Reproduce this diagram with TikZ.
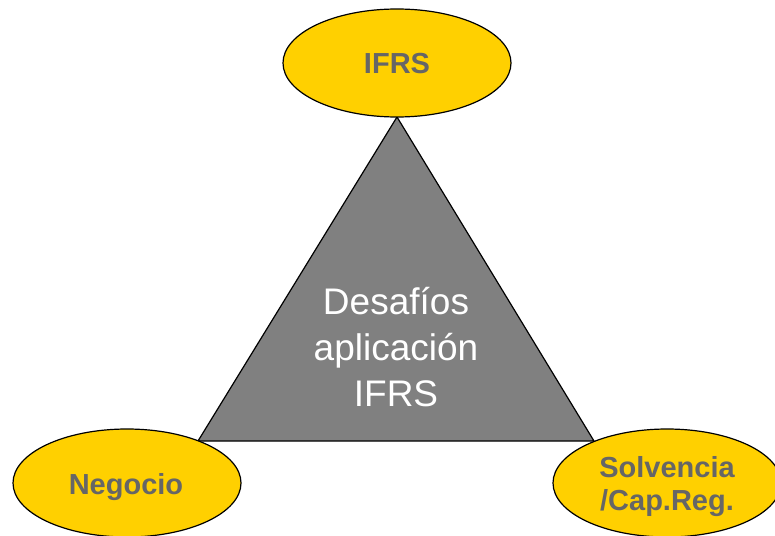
\documentclass[tikz,border=0pt]{standalone}
\usepackage{fontspec}
\setmainfont{Liberation Sans}
\usetikzlibrary{shapes.geometric}
\definecolor{ellfill}{HTML}{FFD000}
\definecolor{trifill}{HTML}{808080}
\definecolor{labgray}{HTML}{666666}
\tikzset{
  ellbox/.style={ellipse, draw=black, line width=1.2pt, fill=ellfill,
    minimum width=228pt, minimum height=108pt, inner sep=0pt},
  elltext/.style={text=labgray, font=\bfseries\fontsize{29}{33}\selectfont, align=center, inner sep=0pt},
  tri/.style={draw=black, line width=1.2pt, fill=trifill, line join=miter},
  centertext/.style={text=white, font=\fontsize{37}{46}\selectfont, align=center, inner sep=0pt}
}
\begin{document}
\begin{tikzpicture}[x=1pt,y=-1pt]
\useasboundingbox (0,0) rectangle (775,535);
\coordinate (apex) at (397,117);
\coordinate (bl) at (198,441);
\coordinate (br) at (594,441);
\draw[tri] (apex) -- (br) -- (bl) -- cycle;
\node[centertext] (center) at (396,347) {Desafíos\\aplicación\\IFRS};
\node[ellbox] (top) at (397,63) {};
\node[ellbox] (left) at (127,483) {};
\node[ellbox] (right) at (667,483) {};
\node[elltext, anchor=base] (toplab) at (397,74) {IFRS};
\node[elltext, anchor=base] (leftlab) at (126,494) {Negocio};
\node[elltext] (rightlab) at (667,487) {Solvencia\\/Cap.Reg.};
\end{tikzpicture}
\end{document}
